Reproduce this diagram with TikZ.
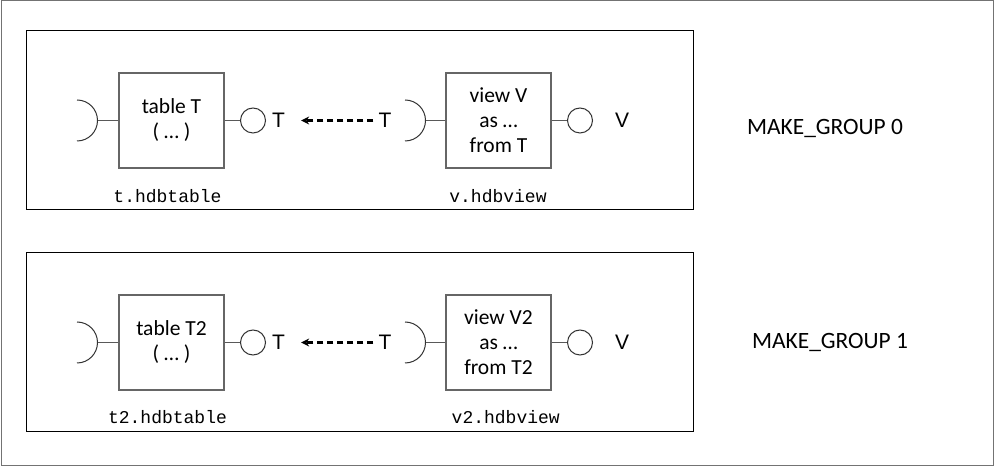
\documentclass[tikz,border=0pt]{standalone}
\usepackage{fontspec}
\setmainfont{Carlito}
\setmonofont{Liberation Mono}
\newfontfamily\lblfont{Liberation Sans}
\usetikzlibrary{arrows.meta}
\tikzset{
  frame/.style={draw=black!55, line width=1pt},
  groupbox/.style={draw=black, line width=1pt, minimum width=667pt, minimum height=179pt, inner sep=0pt},
  compbox/.style={draw=black!60, line width=1.4pt, minimum width=105pt, minimum height=95pt, inner sep=0pt, align=center, font=\fontsize{21.5}{25}\selectfont},
  provided/.style={circle, draw=black!80, line width=1pt, minimum size=25pt, inner sep=0pt},
  socket/.style={draw=black!80, line width=1pt},
  wire/.style={draw=black!65, line width=1.3pt},
  lbl/.style={inner sep=0pt, font=\lblfont\fontsize{21}{24}\selectfont},
  filelbl/.style={inner sep=0pt, font=\fontsize{18}{20}\ttfamily},
  grouplbl/.style={inner sep=0pt, font=\fontsize{23.4}{26}\selectfont},
  dep/.style={draw=black, line width=2.2pt, dash pattern=on 6pt off 4pt, -{Stealth[length=8pt,width=8pt]}}
}
\begin{document}
\begin{tikzpicture}[x=1pt,y=1pt]
\useasboundingbox (0,0) rectangle (995,468);
\draw[frame] (1,2) rectangle (993,467);

% ---------- group 0 ----------
\node[groupbox] (g0) at (359.5,347.5) {};
\node[compbox] (tbl0) at (171.5,347.5) {table T\\( \dots\ )};
\coordinate (s0) at (97.5,347.5);
\draw[socket] (77,368) arc[start angle=90, end angle=-90, radius=20.5];
\draw[wire] (s0) -- (tbl0.west);
\node[provided] (p0) at (253,347.5) {};
\draw[wire] (tbl0.east) -- (p0.west);
\node[lbl] (tl0) at (278.5,347.5) {T};
\node[compbox] (vw0) at (498.5,347.5) {view V\\as \dots\\from T};
\coordinate (s1) at (425.5,347.5);
\draw[socket] (405,368) arc[start angle=90, end angle=-90, radius=20.5];
\draw[wire] (s1) -- (vw0.west);
\node[lbl] (tr0) at (385,347.5) {T};
\draw[dep, shorten <=5pt, shorten >=16pt] (tr0.west) -- (tl0.east);
\node[provided] (p1) at (580,347.5) {};
\draw[wire] (vw0.east) -- (p1.west);
\node[lbl] (vl0) at (622,347.5) {V};
\node[filelbl] (f0) at (167.5,272) {t.hdbtable};
\node[filelbl] (f1) at (498,272) {v.hdbview};
\node[grouplbl] (m0) at (825,340) {MAKE\_GROUP 0};

% ---------- group 1 ----------
\node[groupbox] (g1) at (359.5,125.5) {};
\node[compbox] (tbl1) at (171.5,125.5) {table T2\\( \dots\ )};
\coordinate (s2) at (97.5,125.5);
\draw[socket] (77,146) arc[start angle=90, end angle=-90, radius=20.5];
\draw[wire] (s2) -- (tbl1.west);
\node[provided] (p2) at (253,125.5) {};
\draw[wire] (tbl1.east) -- (p2.west);
\node[lbl] (tl1) at (278.5,125.5) {T};
\node[compbox] (vw1) at (498.5,125.5) {view V2\\as \dots\\from T2};
\coordinate (s3) at (425.5,125.5);
\draw[socket] (405,146) arc[start angle=90, end angle=-90, radius=20.5];
\draw[wire] (s3) -- (vw1.west);
\node[lbl] (tr1) at (385,125.5) {T};
\draw[dep, shorten <=5pt, shorten >=16pt] (tr1.west) -- (tl1.east);
\node[provided] (p3) at (580,125.5) {};
\draw[wire] (vw1.east) -- (p3.west);
\node[lbl] (vl1) at (622,125.5) {V};
\node[filelbl] (f2) at (167.5,50.5) {t2.hdbtable};
\node[filelbl, anchor=west] (f3) at (451.5,50.5) {v2.hdbview};
\node[grouplbl] (m1) at (830,125.5) {MAKE\_GROUP 1};
\end{tikzpicture}
\end{document}
